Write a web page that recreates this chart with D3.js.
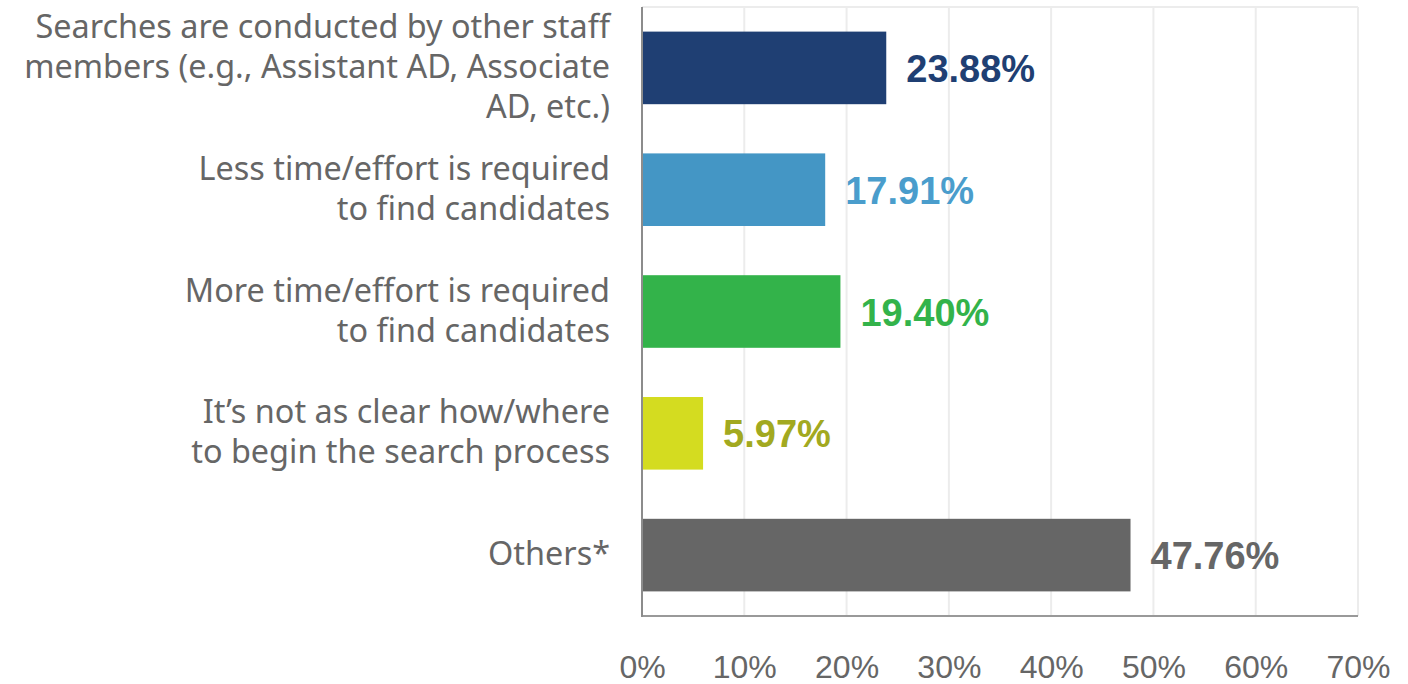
<!DOCTYPE html>
<html>
<head>
<meta charset="utf-8">
<script src="https://cdn.jsdelivr.net/npm/d3@7"></script>
<style>
  body { margin: 0; background: #fff; }
  svg { display: block; }
</style>
</head>
<body>
<script>
(function(){

	//chart data
	var categories = [
		"Searches are conducted by other staff\nmembers (e.g., Assistant AD, Associate\nAD, etc.)",
		"Less time/effort is required\nto find candidates",
		"More time/effort is required\nto find candidates",
		"It\u2019s not as clear how/where\nto begin the search process",
		"Others*"
	];
	var values = [23.88, 17.91, 19.40, 5.97, 47.76];
	var tickValues = [0, 10, 20, 30, 40, 50, 60, 70];

	//colours for bars and their value labels
	var barColors = ["#1f3f73", "#4496c5", "#33b34a", "#d4dc20", "#666666"];
	var labelColors = ["#1f3f73", "#4a9dcc", "#33b34a", "#a2a920", "#666666"];

	var width = 1408, height = 684;

	var svg = d3.select("body")
		.append("svg")
		.attr("width", width)
		.attr("height", height);

	//scales
	var x = d3.scaleLinear()
		.domain([0, 70])
		.range([642, 1358]);

	var y = d3.scaleBand()
		.domain(categories)
		.range([7, 616])
		.paddingInner(0.404)
		.paddingOuter(0.202);

	//vertical gridlines
	svg.append("g")
		.selectAll("line")
		.data(tickValues.slice(1))
		.enter()
		.append("line")
		.attr("x1", function(d){ return x(d); })
		.attr("x2", function(d){ return x(d); })
		.attr("y1", 7)
		.attr("y2", 616)
		.attr("stroke", "#ececec")
		.attr("stroke-width", 2);

	//top border line
	svg.append("line")
		.attr("x1", x(0)).attr("x2", x(70))
		.attr("y1", 7).attr("y2", 7)
		.attr("stroke", "#ececec")
		.attr("stroke-width", 2);

	//bars
	svg.append("g")
		.selectAll("rect")
		.data(values)
		.enter()
		.append("rect")
		.attr("x", x(0))
		.attr("y", function(d, i){ return y(categories[i]); })
		.attr("width", function(d){ return x(d) - x(0); })
		.attr("height", y.bandwidth())
		.attr("fill", function(d, i){ return barColors[i]; });

	//value labels
	svg.append("g")
		.selectAll("text")
		.data(values)
		.enter()
		.append("text")
		.attr("x", function(d){ return x(d) + 20; })
		.attr("y", function(d, i){ return y(categories[i]) + y.bandwidth() / 2 + 14; })
		.attr("fill", function(d, i){ return labelColors[i]; })
		.style("font-family", "'Liberation Sans', Arial, sans-serif")
		.style("font-weight", "bold")
		.style("font-size", "38px")
		.text(function(d){ return d.toFixed(2) + "%"; });

	//category labels, one tspan per line
	var catLabels = svg.append("g")
		.selectAll("text")
		.data(categories)
		.enter()
		.append("text")
		.attr("text-anchor", "end")
		.attr("fill", "#666666")
		.style("font-family", "'Noto Sans', sans-serif")
		.style("font-size", "32.4px");

	catLabels.each(function(d){
		var lines = d.split("\n");
		var cy = y(d) + y.bandwidth() / 2;
		var t = d3.select(this);
		lines.forEach(function(line, j){
			t.append("tspan")
				.attr("x", 610)
				.attr("y", cy + (j - (lines.length - 1) / 2) * 40 + 10)
				.text(line);
		});
	});

	//x axis
	var xAxis = d3.axisBottom(x)
		.tickValues(tickValues)
		.tickSize(0)
		.tickFormat(function(d){ return d + "%"; });

	var gx = svg.append("g")
		.attr("transform", "translate(0,616)")
		.call(xAxis);

	gx.select(".domain").remove();
	gx.selectAll("text")
		.attr("y", 62)
		.attr("dy", 0)
		.attr("fill", "#666666")
		.style("font-family", "'Liberation Sans', Arial, sans-serif")
		.style("font-size", "32px");

	//axis lines
	svg.append("line")
		.attr("x1", x(0)).attr("x2", x(70))
		.attr("y1", 616).attr("y2", 616)
		.attr("stroke", "#999999")
		.attr("stroke-width", 2);

	svg.append("line")
		.attr("x1", x(0)).attr("x2", x(0))
		.attr("y1", 7).attr("y2", 617)
		.attr("stroke", "#8c8c8c")
		.attr("stroke-width", 2);

})();
</script>
</body>
</html>
